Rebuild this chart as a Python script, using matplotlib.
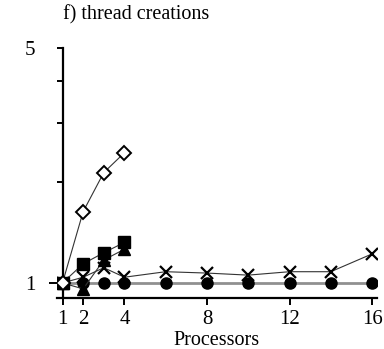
import matplotlib
matplotlib.use("Agg")
import matplotlib.pyplot as plt
from matplotlib.ticker import FixedLocator, NullLocator, NullFormatter, FixedFormatter

plt.rcParams['font.family'] = ['Liberation Serif', 'DejaVu Serif']

x_short = [1, 2, 3, 4]
x_long = [1, 2, 3, 4, 6, 8, 10, 12, 14, 16]

diamonds = [1.0, 1.63, 2.13, 2.44]
squares = [1.0, 1.14, 1.23, 1.32]
triangles = [1.0, 0.96, 1.17, 1.26]
crosses = [1.0, 1.04, 1.11, 1.04, 1.08, 1.07, 1.055, 1.08, 1.08, 1.22]
circles = [1.0] * 10

xticks = [1, 2, 4, 8, 12, 16]
yticks = [1, 2, 3, 4, 5]
ytick_labels = ['1', '', '', '', '5']

W, H = 384, 349
fig = plt.figure(figsize=(W / 100, H / 100), dpi=100)
ax = fig.add_axes([57 / W, 51 / H, (377 - 57) / W, (298 - 48) / H])

ax.plot(x_long, circles, color='#909090', lw=2.0, marker='o', ms=8,
        mfc='black', mec='black', zorder=2)
ax.plot(x_long, crosses, color='#333333', lw=0.8, marker='x', ms=9,
        mec='black', mew=1.6, zorder=3)
ax.plot(x_short, triangles, color='#333333', lw=0.8, marker='^', ms=8,
        mfc='black', mec='black', zorder=3)
ax.plot(x_short, squares, color='#333333', lw=0.8, marker='s', ms=8.5,
        mfc='black', mec='black', zorder=4)
ax.plot(x_short, diamonds, color='#333333', lw=0.8, marker='D', ms=7.5,
        mfc='white', mec='black', mew=1.4, zorder=4)

ax.set_yscale('log')
ax.set_xlim(0.733, 16.24)
ax.set_ylim(0.902, 5)

ax.yaxis.set_major_locator(FixedLocator(yticks))
ax.yaxis.set_major_formatter(FixedFormatter(ytick_labels))
ax.yaxis.set_minor_locator(NullLocator())
ax.yaxis.set_minor_formatter(NullFormatter())
ax.set_xticks(xticks)
ax.set_xticklabels([str(v) for v in xticks])

for s in ['top', 'right']:
    ax.spines[s].set_visible(False)
ax.spines['left'].set_position(('data', 1))
ax.spines['left'].set_linewidth(1.6)
ax.spines['bottom'].set_linewidth(1.6)

ax.tick_params(axis='y', direction='out', length=4.5, width=1.4, pad=15, labelsize=15)
ax.tick_params(axis='x', direction='out', length=5, width=1.4, pad=4, labelsize=15)
ax.yaxis.get_major_ticks()[0].tick1line.set_markersize(10)

ax.set_xlabel('Processors', fontsize=14.5, labelpad=1.0)
fig.text(63 / W, 1 - 15 / H, 'f) thread creations', fontsize=14.5, ha='left', va='center')

fig.savefig('out.png', dpi=100)
